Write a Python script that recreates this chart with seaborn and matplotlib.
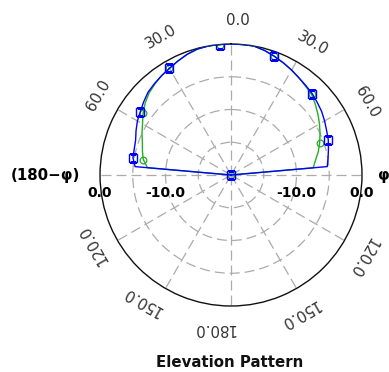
import numpy as np
import matplotlib
matplotlib.use("Agg")
import matplotlib.pyplot as plt
import matplotlib.transforms as mtransforms
import pandas as pd
import seaborn as sns

# ---- data (angle in degrees from zenith, right side positive / left side negative) ----
angles_deg = [-90, -85, -80, -75, -70, -65, -60, -55, -50, -45, -40, -35, -30, -25, -20,
              -15, -10, -5, 0, 5, 10, 15, 20, 25, 30, 35, 40, 45, 50, 55, 60, 65, 70,
              75, 80, 85, 90]
blue_db = [-20.0, -5.3, -4.8, -4.7, -4.5, -4.0, -3.5, -3.1, -2.6, -2.1, -1.8, -1.5, -1.2,
           -0.8, -0.4, -0.1, 0.0, 0.0, 0.0, 0.0, 0.0, -0.3, -0.7, -1.1, -1.5, -1.9, -2.2,
           -2.45, -2.8, -3.1, -3.5, -3.9, -4.2, -4.6, -4.95, -5.25, -20.0]
green_db = [-20.0, -7.2, -6.4, -6.0, -5.6, -5.0, -4.4, -3.6, -2.9, -2.3, -1.9, -1.5, -1.2,
            -0.8, -0.4, -0.1, 0.0, 0.0, 0.0, 0.0, 0.0, -0.3, -0.7, -1.1, -1.5, -1.9, -2.3,
            -2.6, -3.2, -3.8, -4.4, -5.0, -5.6, -6.2, -6.9, -7.4, -20.0]

angle_tick_values = [0, -30, 30, -60, 60, -120, 120, -150, 150, 180]
angle_tick_labels = ["0.0", "30.0", "30.0", "60.0", "60.0", "120.0", "120.0",
                     "150.0", "150.0", "180.0"]
radial_tick_values = [0, -10]
radial_tick_labels = ["0.0", "-10.0"]
side_labels = ["(180\u2212\u03c6)", "\u03c6"]
title_text = "Elevation Pattern"

# ---- layout / style ----
label_pos_deg = [2.7, -27, 31.8, -59, 62, -117, 122, -145, 154, 186.5]
label_r = 3.6
mark_idx = [2, 7, 12, 17, 22, 27, 32, 36]

sns.set_style("white")
plt.rcParams['font.family'] = ['DejaVu Sans']

fig = plt.figure(figsize=(3.89, 3.72), dpi=100)
ax = fig.add_axes([0.2571, 0.1774, 0.6735, 0.7043], projection='polar')
ax.set_theta_zero_location('N')
ax.set_theta_direction(-1)

df = pd.DataFrame({'theta': np.deg2rad(angles_deg), 'blue': blue_db, 'green': green_db})

sns.lineplot(data=df, x='theta', y='green', sort=False, estimator=None, ax=ax,
             color='#22b022', linewidth=1.0, marker='o', markersize=4.8,
             mfc='none', mec='#22b022', mew=0.9, markevery=mark_idx, zorder=3)
sns.lineplot(data=df, x='theta', y='blue', sort=False, estimator=None, ax=ax,
             color='#0000ff', linewidth=1.0, marker='s', markersize=5.5,
             mfc='none', mec='#0000ff', mew=1.0, markevery=mark_idx, zorder=4)

ax.set_xlabel('')
ax.set_ylabel('')
ax.set_ylim(-20, 0)
ax.set_yticks([-15, -10, -5])
ax.set_yticklabels([])
ax.set_xticks(np.deg2rad(np.arange(0, 360, 30)))
ax.set_xticklabels([])
ax.grid(True, color='#ababab', linestyle=(0, (8, 4)), linewidth=0.9)
ax.spines['polar'].set_color('#111111')
ax.spines['polar'].set_linewidth(1.0)

# angular labels (rotated tangentially)
for val, pos, lab in zip(angle_tick_values, label_pos_deg, angle_tick_labels):
    ax.text(np.deg2rad(pos), label_r, lab, rotation=-val, rotation_mode='anchor',
            ha='center', va='center', fontsize=10.8, color='#333333')

# radial labels below the horizontal axis
trans = mtransforms.offset_copy(ax.transData, fig=fig, x=0, y=-18, units='dots')
for side in (-90, 90):
    for rv, rl in zip(radial_tick_values, radial_tick_labels):
        ax.text(np.deg2rad(side), rv, rl, transform=trans, ha='center', va='center',
                fontsize=10, fontweight='bold', color='black')

ax.text(np.deg2rad(-90), 3.0, side_labels[0], ha='right', va='center',
        fontsize=10.8, fontweight='bold', color='black')
ax.text(np.deg2rad(90), 2.5, side_labels[1], ha='left', va='center',
        fontsize=10.8, fontweight='bold', color='black')

fig.text(0.591, 0.026, title_text, ha='center', va='center', fontsize=10.8,
         fontweight='bold', color='#111111')

fig.savefig('out.png', dpi=100)
